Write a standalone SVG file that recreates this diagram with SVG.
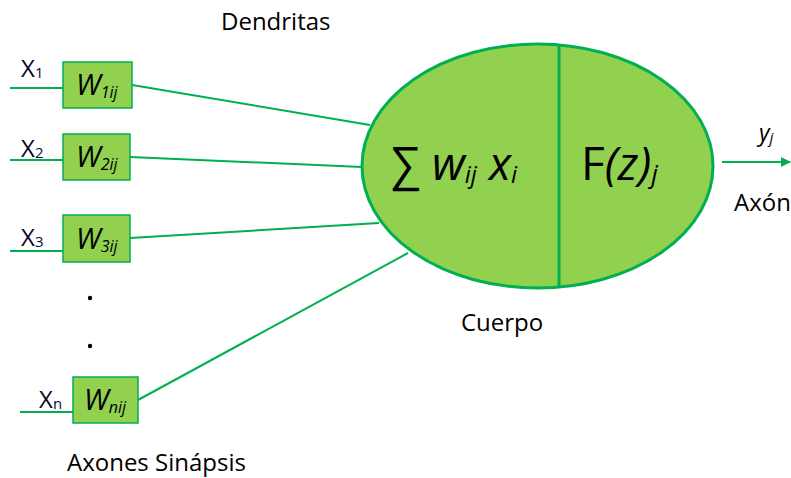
<svg xmlns="http://www.w3.org/2000/svg" width="791" height="478" viewBox="0 0 791 478">
<defs>
<style>
.ln{stroke:#00B050;stroke-width:2;fill:none}
.box{fill:#92D050;stroke:#00B050;stroke-width:1.5}
.t{font-family:"Open Sans","Liberation Sans",sans-serif;fill:#000}
.lbl{font-size:24px}
.x{font-size:24px;fill:#0a0a2a}
.w{font-family:"Open Sans","Liberation Sans",sans-serif;font-style:italic;font-size:29px}
.ws{font-size:16px}
</style>
<marker id="arr" viewBox="0 0 10 10" refX="9" refY="5" markerWidth="5" markerHeight="5" orient="auto"><path d="M0,0 L10,5 L0,10 z" fill="#00B050"/></marker>
</defs>
<rect width="791" height="478" fill="#fff"/>
<g id="connectors">
<line class="ln" x1="10" y1="88" x2="63" y2="88"/>
<line class="ln" x1="10" y1="160" x2="63" y2="160"/>
<line class="ln" x1="10" y1="251" x2="63" y2="251"/>
<line class="ln" x1="20" y1="412" x2="73" y2="412"/>
<line class="ln" x1="132" y1="85" x2="370" y2="125"/>
<line class="ln" x1="130" y1="157" x2="362" y2="167"/>
<line class="ln" x1="130" y1="238" x2="379" y2="223"/>
<line class="ln" x1="138" y1="400" x2="408" y2="253"/>
<line class="ln" x1="722" y1="162" x2="790" y2="162" marker-end="url(#arr)"/>
</g>
<g id="w1"><rect class="box" x="63" y="62" width="69" height="46"/><text class="w" x="76" y="95">W<tspan class="ws" dy="3">1ij</tspan></text></g>
<g id="w2"><rect class="box" x="63" y="134" width="67" height="46"/><text class="w" x="76" y="167">W<tspan class="ws" dy="3">2ij</tspan></text></g>
<g id="w3"><rect class="box" x="63" y="215" width="67" height="47"/><text class="w" x="76" y="249">W<tspan class="ws" dy="3">3ij</tspan></text></g>
<g id="wn"><rect class="box" x="73" y="377" width="65" height="46"/><text class="w" x="84" y="410">W<tspan class="ws" dy="3">nij</tspan></text></g>
<g id="inputs" class="t">
<text class="x" x="21" y="77">X<tspan font-size="15" dy="1">1</tspan></text>
<text class="x" x="21" y="157">X<tspan font-size="15" dy="1">2</tspan></text>
<text class="x" x="21" y="246">X<tspan font-size="15" dy="1">3</tspan></text>
<text class="x" x="39" y="408">X<tspan font-size="15" dy="1">n</tspan></text>
<circle cx="90" cy="298" r="2.2" fill="#000"/>
<circle cx="90" cy="346" r="2.2" fill="#000"/>
</g>
<g id="cuerpo">
<ellipse cx="537.5" cy="166" rx="175.5" ry="122" fill="#92D050" stroke="#00B050" stroke-width="3"/>
<line x1="559" y1="44" x2="559" y2="288" stroke="#00B050" stroke-width="3"/>
<text class="t" x="391" y="180" font-size="46">∑ <tspan font-style="italic" font-size="46">w</tspan><tspan font-style="italic" font-size="24" dy="3">ij</tspan><tspan font-style="italic" font-size="46" dy="-3"> x</tspan><tspan font-style="italic" font-size="24" dy="3">i</tspan></text>
<text class="t" x="581" y="180" font-size="46">F<tspan font-style="italic">(z)</tspan><tspan font-style="italic" font-size="26" dy="3">j</tspan></text>
</g>
<g id="labels" class="t">
<text class="lbl" x="221" y="30">Dendritas</text>
<text class="lbl" x="461" y="331">Cuerpo</text>
<text class="lbl" x="67" y="471">Axones Sinápsis</text>
<text class="lbl" x="734" y="211">Axón</text>
<text x="759" y="141" font-size="23" font-style="italic">y<tspan font-size="15" dy="2">j</tspan></text>
</g>
</svg>
